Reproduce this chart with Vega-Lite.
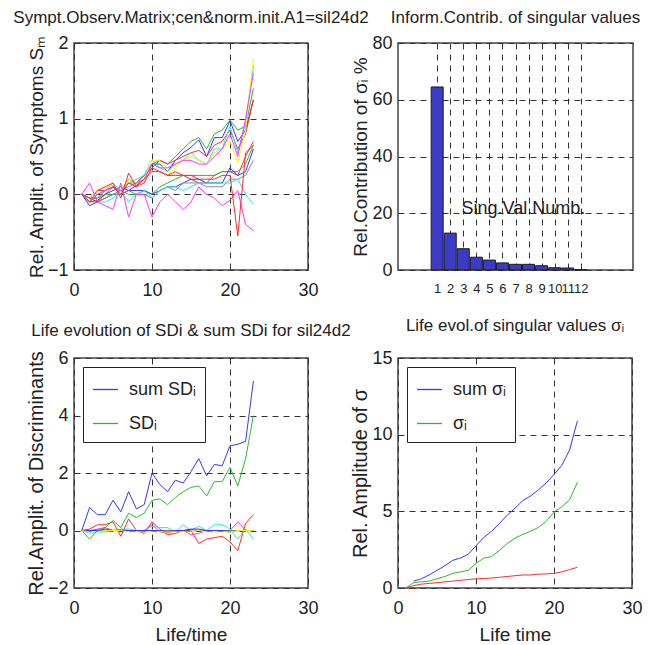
{
"$schema": "https://vega.github.io/schema/vega-lite/v6.json",
"background": "white",
"padding": {"left": 12, "top": 8, "right": 5, "bottom": 5},
"columns": 2,
"bounds": "flush",
"spacing": {"row": 88, "column": 90},
"resolve": {"scale": {"color": "independent", "x": "independent", "y": "independent"}, "legend": {"color": "independent"}},
"config": {
  "font": "Liberation Sans",
  "view": {"stroke": "#444", "strokeWidth": 1.5},
  "axis": {"labelFontSize": 18, "labelColor": "#222", "titleFontSize": 20, "titleFontWeight": "normal", "titleColor": "#222", "ticks": false, "domain": false, "grid": true, "gridColor": "#333", "gridDash": [6, 5], "gridWidth": 1, "gridOpacity": 1, "labelFlush": false, "labelOverlap": false, "labelBound": false},
  "axisX": {"labelPadding": 11, "titlePadding": 8, "titleFontSize": 19},
  "axisY": {"labelPadding": 6, "titlePadding": 1},
  "title": {"fontSize": 17, "fontWeight": "normal", "color": "#222"},
  "legend": {"orient": "top-left", "offset": 9, "strokeColor": "#222", "fillColor": "white", "padding": 9, "symbolType": "stroke", "symbolSize": 620, "symbolStrokeWidth": 1.3, "labelFontSize": 18, "labelColor": "#222", "rowPadding": 11, "labelOffset": 10}
},
"datasets": {
"symptoms": [
{"s":"g1","t":1,"v":0},{"s":"g1","t":2,"v":-0.05},{"s":"g1","t":3,"v":-0.05},{"s":"g1","t":4,"v":0.05},{"s":"g1","t":5,"v":0.1},{"s":"g1","t":6,"v":0.05},{"s":"g1","t":7,"v":0.15},{"s":"g1","t":8,"v":0.15},{"s":"g1","t":9,"v":0.25},{"s":"g1","t":10,"v":0.4},{"s":"g1","t":11,"v":0.45},{"s":"g1","t":12,"v":0.4},{"s":"g1","t":13,"v":0.5},{"s":"g1","t":14,"v":0.6},{"s":"g1","t":15,"v":0.7},{"s":"g1","t":16,"v":0.75},{"s":"g1","t":17,"v":0.6},{"s":"g1","t":18,"v":0.8},{"s":"g1","t":19,"v":0.85},{"s":"g1","t":20,"v":0.98},{"s":"g1","t":21,"v":0.85},{"s":"g1","t":22,"v":0.9},{"s":"g1","t":23,"v":1.4},
{"s":"b1","t":1,"v":0},{"s":"b1","t":2,"v":-0.1},{"s":"b1","t":3,"v":-0.08},{"s":"b1","t":4,"v":0},{"s":"b1","t":5,"v":0.05},{"s":"b1","t":6,"v":0.1},{"s":"b1","t":7,"v":0.05},{"s":"b1","t":8,"v":0.12},{"s":"b1","t":9,"v":0.2},{"s":"b1","t":10,"v":0.4},{"s":"b1","t":11,"v":0.4},{"s":"b1","t":12,"v":0.3},{"s":"b1","t":13,"v":0.45},{"s":"b1","t":14,"v":0.55},{"s":"b1","t":15,"v":0.62},{"s":"b1","t":16,"v":0.72},{"s":"b1","t":17,"v":0.5},{"s":"b1","t":18,"v":0.75},{"s":"b1","t":19,"v":0.75},{"s":"b1","t":20,"v":0.97},{"s":"b1","t":21,"v":0.7},{"s":"b1","t":22,"v":0.85},{"s":"b1","t":23,"v":1.25},
{"s":"r1","t":1,"v":0},{"s":"r1","t":2,"v":-0.05},{"s":"r1","t":3,"v":0.05},{"s":"r1","t":4,"v":0.05},{"s":"r1","t":5,"v":0.1},{"s":"r1","t":6,"v":0.05},{"s":"r1","t":7,"v":0.2},{"s":"r1","t":8,"v":0.15},{"s":"r1","t":9,"v":0.25},{"s":"r1","t":10,"v":0.35},{"s":"r1","t":11,"v":0.45},{"s":"r1","t":12,"v":0.4},{"s":"r1","t":13,"v":0.45},{"s":"r1","t":14,"v":0.5},{"s":"r1","t":15,"v":0.55},{"s":"r1","t":16,"v":0.58},{"s":"r1","t":17,"v":0.5},{"s":"r1","t":18,"v":0.65},{"s":"r1","t":19,"v":0.7},{"s":"r1","t":20,"v":0.85},{"s":"r1","t":21,"v":0.6},{"s":"r1","t":22,"v":0.8},{"s":"r1","t":23,"v":1.25},
{"s":"c1","t":1,"v":0},{"s":"c1","t":2,"v":-0.1},{"s":"c1","t":3,"v":0},{"s":"c1","t":4,"v":0.05},{"s":"c1","t":5,"v":0.15},{"s":"c1","t":6,"v":0.05},{"s":"c1","t":7,"v":0.15},{"s":"c1","t":8,"v":0.2},{"s":"c1","t":9,"v":0.25},{"s":"c1","t":10,"v":0.45},{"s":"c1","t":11,"v":0.35},{"s":"c1","t":12,"v":0.3},{"s":"c1","t":13,"v":0.4},{"s":"c1","t":14,"v":0.45},{"s":"c1","t":15,"v":0.55},{"s":"c1","t":16,"v":0.45},{"s":"c1","t":17,"v":0.4},{"s":"c1","t":18,"v":0.6},{"s":"c1","t":19,"v":0.6},{"s":"c1","t":20,"v":0.9},{"s":"c1","t":21,"v":0.55},{"s":"c1","t":22,"v":0.95},{"s":"c1","t":23,"v":1.7},
{"s":"y1","t":1,"v":0},{"s":"y1","t":2,"v":-0.05},{"s":"y1","t":3,"v":0.05},{"s":"y1","t":4,"v":0.1},{"s":"y1","t":5,"v":0.12},{"s":"y1","t":6,"v":0.05},{"s":"y1","t":7,"v":0.2},{"s":"y1","t":8,"v":0.15},{"s":"y1","t":9,"v":0.2},{"s":"y1","t":10,"v":0.45},{"s":"y1","t":11,"v":0.45},{"s":"y1","t":12,"v":0.25},{"s":"y1","t":13,"v":0.35},{"s":"y1","t":14,"v":0.45},{"s":"y1","t":15,"v":0.5},{"s":"y1","t":16,"v":0.45},{"s":"y1","t":17,"v":0.4},{"s":"y1","t":18,"v":0.55},{"s":"y1","t":19,"v":0.6},{"s":"y1","t":20,"v":0.7},{"s":"y1","t":21,"v":0.42},{"s":"y1","t":22,"v":0.85},{"s":"y1","t":23,"v":1.8},
{"s":"m1","t":1,"v":0},{"s":"m1","t":2,"v":-0.1},{"s":"m1","t":3,"v":0},{"s":"m1","t":4,"v":0.05},{"s":"m1","t":5,"v":0.1},{"s":"m1","t":6,"v":0.05},{"s":"m1","t":7,"v":0.1},{"s":"m1","t":8,"v":0.15},{"s":"m1","t":9,"v":0.2},{"s":"m1","t":10,"v":0.4},{"s":"m1","t":11,"v":0.35},{"s":"m1","t":12,"v":0.35},{"s":"m1","t":13,"v":0.4},{"s":"m1","t":14,"v":0.45},{"s":"m1","t":15,"v":0.45},{"s":"m1","t":16,"v":0.4},{"s":"m1","t":17,"v":0.4},{"s":"m1","t":18,"v":0.5},{"s":"m1","t":19,"v":0.6},{"s":"m1","t":20,"v":0.8},{"s":"m1","t":21,"v":0.5},{"s":"m1","t":22,"v":1.0},{"s":"m1","t":23,"v":1.6},
{"s":"r2","t":1,"v":0},{"s":"r2","t":2,"v":-0.1},{"s":"r2","t":3,"v":0.05},{"s":"r2","t":4,"v":0.1},{"s":"r2","t":5,"v":0.15},{"s":"r2","t":6,"v":-0.05},{"s":"r2","t":7,"v":0.28},{"s":"r2","t":8,"v":0.1},{"s":"r2","t":9,"v":0.15},{"s":"r2","t":10,"v":0.35},{"s":"r2","t":11,"v":0.3},{"s":"r2","t":12,"v":0.25},{"s":"r2","t":13,"v":0.25},{"s":"r2","t":14,"v":0.25},{"s":"r2","t":15,"v":0.2},{"s":"r2","t":16,"v":0.15},{"s":"r2","t":17,"v":0.15},{"s":"r2","t":18,"v":0.25},{"s":"r2","t":19,"v":0.3},{"s":"r2","t":20,"v":0.3},{"s":"r2","t":21,"v":0.25},{"s":"r2","t":22,"v":0.5},{"s":"r2","t":23,"v":0.7},
{"s":"g2","t":1,"v":0},{"s":"g2","t":2,"v":-0.05},{"s":"g2","t":3,"v":-0.05},{"s":"g2","t":4,"v":0},{"s":"g2","t":5,"v":0},{"s":"g2","t":6,"v":0.05},{"s":"g2","t":7,"v":0},{"s":"g2","t":8,"v":0},{"s":"g2","t":9,"v":0.05},{"s":"g2","t":10,"v":0},{"s":"g2","t":11,"v":0.1},{"s":"g2","t":12,"v":0.15},{"s":"g2","t":13,"v":0.2},{"s":"g2","t":14,"v":0.25},{"s":"g2","t":15,"v":0.25},{"s":"g2","t":16,"v":0.25},{"s":"g2","t":17,"v":0.25},{"s":"g2","t":18,"v":0.25},{"s":"g2","t":19,"v":0.3},{"s":"g2","t":20,"v":0.3},{"s":"g2","t":21,"v":0.3},{"s":"g2","t":22,"v":0.4},{"s":"g2","t":23,"v":0.65},
{"s":"b2","t":1,"v":0},{"s":"b2","t":2,"v":-0.15},{"s":"b2","t":3,"v":-0.1},{"s":"b2","t":4,"v":-0.05},{"s":"b2","t":5,"v":0},{"s":"b2","t":6,"v":0},{"s":"b2","t":7,"v":0.05},{"s":"b2","t":8,"v":0.05},{"s":"b2","t":9,"v":0.05},{"s":"b2","t":10,"v":0},{"s":"b2","t":11,"v":0.05},{"s":"b2","t":12,"v":0.1},{"s":"b2","t":13,"v":0.1},{"s":"b2","t":14,"v":0.15},{"s":"b2","t":15,"v":0.2},{"s":"b2","t":16,"v":0.2},{"s":"b2","t":17,"v":0.15},{"s":"b2","t":18,"v":0.15},{"s":"b2","t":19,"v":0.15},{"s":"b2","t":20,"v":0.35},{"s":"b2","t":21,"v":0.25},{"s":"b2","t":22,"v":0.3},{"s":"b2","t":23,"v":0.6},
{"s":"k1","t":1,"v":0},{"s":"k1","t":2,"v":-0.1},{"s":"k1","t":3,"v":-0.1},{"s":"k1","t":4,"v":-0.05},{"s":"k1","t":5,"v":0},{"s":"k1","t":6,"v":0},{"s":"k1","t":7,"v":0.05},{"s":"k1","t":8,"v":0},{"s":"k1","t":9,"v":0},{"s":"k1","t":10,"v":-0.05},{"s":"k1","t":11,"v":0.05},{"s":"k1","t":12,"v":0.1},{"s":"k1","t":13,"v":0.05},{"s":"k1","t":14,"v":0.15},{"s":"k1","t":15,"v":0.15},{"s":"k1","t":16,"v":0.15},{"s":"k1","t":17,"v":0.1},{"s":"k1","t":18,"v":0.1},{"s":"k1","t":19,"v":0.1},{"s":"k1","t":20,"v":0.2},{"s":"k1","t":21,"v":0.2},{"s":"k1","t":22,"v":0.25},{"s":"k1","t":23,"v":0.45},
{"s":"c2","t":1,"v":0},{"s":"c2","t":2,"v":-0.05},{"s":"c2","t":3,"v":-0.1},{"s":"c2","t":4,"v":-0.1},{"s":"c2","t":5,"v":-0.05},{"s":"c2","t":6,"v":0.05},{"s":"c2","t":7,"v":-0.1},{"s":"c2","t":8,"v":0},{"s":"c2","t":9,"v":0.05},{"s":"c2","t":10,"v":-0.05},{"s":"c2","t":11,"v":0.05},{"s":"c2","t":12,"v":0.1},{"s":"c2","t":13,"v":0.1},{"s":"c2","t":14,"v":0.05},{"s":"c2","t":15,"v":0.1},{"s":"c2","t":16,"v":0.15},{"s":"c2","t":17,"v":0.15},{"s":"c2","t":18,"v":0.15},{"s":"c2","t":19,"v":0.15},{"s":"c2","t":20,"v":0.15},{"s":"c2","t":21,"v":0.2},{"s":"c2","t":22,"v":0},{"s":"c2","t":23,"v":-0.13},
{"s":"m2","t":1,"v":0},{"s":"m2","t":2,"v":0.15},{"s":"m2","t":3,"v":-0.1},{"s":"m2","t":4,"v":-0.15},{"s":"m2","t":5,"v":-0.2},{"s":"m2","t":6,"v":0.15},{"s":"m2","t":7,"v":-0.3},{"s":"m2","t":8,"v":0},{"s":"m2","t":9,"v":0},{"s":"m2","t":10,"v":-0.3},{"s":"m2","t":11,"v":-0.1},{"s":"m2","t":12,"v":0},{"s":"m2","t":13,"v":-0.1},{"s":"m2","t":14,"v":-0.2},{"s":"m2","t":15,"v":-0.1},{"s":"m2","t":16,"v":0.1},{"s":"m2","t":17,"v":0},{"s":"m2","t":18,"v":-0.05},{"s":"m2","t":19,"v":-0.15},{"s":"m2","t":20,"v":-0.08},{"s":"m2","t":21,"v":0.05},{"s":"m2","t":22,"v":-0.4},{"s":"m2","t":23,"v":-0.48},
{"s":"r3","t":1,"v":0},{"s":"r3","t":2,"v":-0.05},{"s":"r3","t":3,"v":-0.1},{"s":"r3","t":4,"v":0},{"s":"r3","t":5,"v":0.1},{"s":"r3","t":6,"v":0},{"s":"r3","t":7,"v":0.15},{"s":"r3","t":8,"v":0.1},{"s":"r3","t":9,"v":0.2},{"s":"r3","t":10,"v":0.3},{"s":"r3","t":11,"v":0.3},{"s":"r3","t":12,"v":0.25},{"s":"r3","t":13,"v":0.3},{"s":"r3","t":14,"v":0.25},{"s":"r3","t":15,"v":0.25},{"s":"r3","t":16,"v":0.2},{"s":"r3","t":17,"v":0.2},{"s":"r3","t":18,"v":0.2},{"s":"r3","t":19,"v":0.25},{"s":"r3","t":20,"v":0.25},{"s":"r3","t":21,"v":-0.55},{"s":"r3","t":22,"v":0.55},{"s":"r3","t":23,"v":0.65}
],
"contrib": [
{"n":1,"pct":64.5},{"n":2,"pct":13},{"n":3,"pct":7.5},{"n":4,"pct":4.5},{"n":5,"pct":3.5},{"n":6,"pct":2.5},{"n":7,"pct":2},{"n":8,"pct":2},{"n":9,"pct":1.5},{"n":10,"pct":0.8},{"n":11,"pct":0.7},{"n":12,"pct":0.1}
],
"note": [{"n":7.6,"pct":21.5,"label":"Sing.Val.Numb."}],
"sd": [
{"s":"r","t":1,"v":0},{"s":"r","t":2,"v":0.05},{"s":"r","t":3,"v":0.2},{"s":"r","t":4,"v":0.2},{"s":"r","t":5,"v":0.3},{"s":"r","t":6,"v":-0.2},{"s":"r","t":7,"v":0.4},{"s":"r","t":8,"v":0},{"s":"r","t":9,"v":-0.1},{"s":"r","t":10,"v":0.3},{"s":"r","t":11,"v":0.05},{"s":"r","t":12,"v":-0.15},{"s":"r","t":13,"v":-0.1},{"s":"r","t":14,"v":0},{"s":"r","t":15,"v":0},{"s":"r","t":16,"v":-0.45},{"s":"r","t":17,"v":-0.3},{"s":"r","t":18,"v":-0.25},{"s":"r","t":19,"v":-0.2},{"s":"r","t":20,"v":-0.4},{"s":"r","t":21,"v":-0.7},{"s":"r","t":22,"v":0.25},{"s":"r","t":23,"v":0.55},
{"s":"c","t":1,"v":0},{"s":"c","t":2,"v":-0.1},{"s":"c","t":3,"v":-0.05},{"s":"c","t":4,"v":-0.05},{"s":"c","t":5,"v":0},{"s":"c","t":6,"v":0.05},{"s":"c","t":7,"v":0.05},{"s":"c","t":8,"v":0},{"s":"c","t":9,"v":0},{"s":"c","t":10,"v":0.15},{"s":"c","t":11,"v":0.1},{"s":"c","t":12,"v":0.1},{"s":"c","t":13,"v":-0.05},{"s":"c","t":14,"v":0.2},{"s":"c","t":15,"v":0},{"s":"c","t":16,"v":0.15},{"s":"c","t":17,"v":0},{"s":"c","t":18,"v":0.2},{"s":"c","t":19,"v":0.2},{"s":"c","t":20,"v":0.05},{"s":"c","t":21,"v":-0.3},{"s":"c","t":22,"v":0.05},{"s":"c","t":23,"v":-0.3},
{"s":"m","t":1,"v":0},{"s":"m","t":2,"v":0},{"s":"m","t":3,"v":0.05},{"s":"m","t":4,"v":0.1},{"s":"m","t":5,"v":0},{"s":"m","t":6,"v":0},{"s":"m","t":7,"v":0},{"s":"m","t":8,"v":0},{"s":"m","t":9,"v":0},{"s":"m","t":10,"v":0.2},{"s":"m","t":11,"v":-0.05},{"s":"m","t":12,"v":-0.1},{"s":"m","t":13,"v":0},{"s":"m","t":14,"v":0},{"s":"m","t":15,"v":-0.15},{"s":"m","t":16,"v":-0.1},{"s":"m","t":17,"v":0},{"s":"m","t":18,"v":0},{"s":"m","t":19,"v":0},{"s":"m","t":20,"v":0},{"s":"m","t":21,"v":0.3},{"s":"m","t":22,"v":0},{"s":"m","t":23,"v":0},
{"s":"k","t":1,"v":0},{"s":"k","t":2,"v":0},{"s":"k","t":3,"v":0.02},{"s":"k","t":4,"v":0},{"s":"k","t":5,"v":0},{"s":"k","t":6,"v":0.03},{"s":"k","t":7,"v":0},{"s":"k","t":8,"v":0},{"s":"k","t":9,"v":0},{"s":"k","t":10,"v":0},{"s":"k","t":11,"v":0},{"s":"k","t":12,"v":0},{"s":"k","t":13,"v":0},{"s":"k","t":14,"v":0},{"s":"k","t":15,"v":0.03},{"s":"k","t":16,"v":0},{"s":"k","t":17,"v":0},{"s":"k","t":18,"v":0},{"s":"k","t":19,"v":0},{"s":"k","t":20,"v":0},{"s":"k","t":21,"v":0},{"s":"k","t":22,"v":0},{"s":"k","t":23,"v":0},
{"s":"b","t":1,"v":0},{"s":"b","t":2,"v":0},{"s":"b","t":3,"v":0},{"s":"b","t":4,"v":0.05},{"s":"b","t":5,"v":0},{"s":"b","t":6,"v":0},{"s":"b","t":7,"v":0},{"s":"b","t":8,"v":0},{"s":"b","t":9,"v":0},{"s":"b","t":10,"v":0},{"s":"b","t":11,"v":0},{"s":"b","t":12,"v":-0.05},{"s":"b","t":13,"v":0},{"s":"b","t":14,"v":0},{"s":"b","t":15,"v":0.05},{"s":"b","t":16,"v":0.05},{"s":"b","t":17,"v":0},{"s":"b","t":18,"v":0},{"s":"b","t":19,"v":0},{"s":"b","t":20,"v":-0.05},{"s":"b","t":21,"v":0},{"s":"b","t":22,"v":0},{"s":"b","t":23,"v":0},
{"s":"y","t":1,"v":0},{"s":"y","t":2,"v":-0.05},{"s":"y","t":3,"v":-0.05},{"s":"y","t":4,"v":0},{"s":"y","t":5,"v":0},{"s":"y","t":6,"v":0},{"s":"y","t":7,"v":-0.05},{"s":"y","t":8,"v":-0.05},{"s":"y","t":9,"v":-0.05},{"s":"y","t":10,"v":-0.05},{"s":"y","t":11,"v":-0.05},{"s":"y","t":12,"v":-0.05},{"s":"y","t":13,"v":-0.05},{"s":"y","t":14,"v":-0.05},{"s":"y","t":15,"v":-0.05},{"s":"y","t":16,"v":0},{"s":"y","t":17,"v":-0.05},{"s":"y","t":18,"v":-0.05},{"s":"y","t":19,"v":-0.05},{"s":"y","t":20,"v":-0.05},{"s":"y","t":21,"v":0},{"s":"y","t":22,"v":0},{"s":"y","t":23,"v":0},
{"s":"SDᵢ","t":1,"v":0},{"s":"SDᵢ","t":2,"v":-0.3},{"s":"SDᵢ","t":3,"v":0},{"s":"SDᵢ","t":4,"v":0.1},{"s":"SDᵢ","t":5,"v":0.35},{"s":"SDᵢ","t":6,"v":0.1},{"s":"SDᵢ","t":7,"v":0.6},{"s":"SDᵢ","t":8,"v":0.45},{"s":"SDᵢ","t":9,"v":0.6},{"s":"SDᵢ","t":10,"v":1.05},{"s":"SDᵢ","t":11,"v":1.1},{"s":"SDᵢ","t":12,"v":0.9},{"s":"SDᵢ","t":13,"v":1.15},{"s":"SDᵢ","t":14,"v":1.35},{"s":"SDᵢ","t":15,"v":1.5},{"s":"SDᵢ","t":16,"v":1.55},{"s":"SDᵢ","t":17,"v":1.2},{"s":"SDᵢ","t":18,"v":1.7},{"s":"SDᵢ","t":19,"v":1.7},{"s":"SDᵢ","t":20,"v":2.2},{"s":"SDᵢ","t":21,"v":1.55},{"s":"SDᵢ","t":22,"v":2.5},{"s":"SDᵢ","t":23,"v":4.0},
{"s":"sum SDᵢ","t":1,"v":0},{"s":"sum SDᵢ","t":2,"v":0.8},{"s":"sum SDᵢ","t":3,"v":0.55},{"s":"sum SDᵢ","t":4,"v":0.55},{"s":"sum SDᵢ","t":5,"v":1.05},{"s":"sum SDᵢ","t":6,"v":0.65},{"s":"sum SDᵢ","t":7,"v":1.35},{"s":"sum SDᵢ","t":8,"v":0.75},{"s":"sum SDᵢ","t":9,"v":0.9},{"s":"sum SDᵢ","t":10,"v":2.0},{"s":"sum SDᵢ","t":11,"v":1.6},{"s":"sum SDᵢ","t":12,"v":1.35},{"s":"sum SDᵢ","t":13,"v":1.75},{"s":"sum SDᵢ","t":14,"v":1.65},{"s":"sum SDᵢ","t":15,"v":2.05},{"s":"sum SDᵢ","t":16,"v":2.5},{"s":"sum SDᵢ","t":17,"v":1.9},{"s":"sum SDᵢ","t":18,"v":2.3},{"s":"sum SDᵢ","t":19,"v":2.25},{"s":"sum SDᵢ","t":20,"v":2.95},{"s":"sum SDᵢ","t":21,"v":3.0},{"s":"sum SDᵢ","t":22,"v":3.1},{"s":"sum SDᵢ","t":23,"v":5.2}
],
"sigma": [
{"s":"r","t":1,"v":0},{"s":"r","t":2,"v":0.15},{"s":"r","t":3,"v":0.25},{"s":"r","t":4,"v":0.3},{"s":"r","t":5,"v":0.35},{"s":"r","t":6,"v":0.4},{"s":"r","t":7,"v":0.45},{"s":"r","t":8,"v":0.5},{"s":"r","t":9,"v":0.55},{"s":"r","t":10,"v":0.6},{"s":"r","t":11,"v":0.62},{"s":"r","t":12,"v":0.65},{"s":"r","t":13,"v":0.7},{"s":"r","t":14,"v":0.75},{"s":"r","t":15,"v":0.8},{"s":"r","t":16,"v":0.85},{"s":"r","t":17,"v":0.85},{"s":"r","t":18,"v":0.9},{"s":"r","t":19,"v":0.92},{"s":"r","t":20,"v":0.95},{"s":"r","t":21,"v":1.05},{"s":"r","t":22,"v":1.2},{"s":"r","t":23,"v":1.35},
{"s":"σᵢ","t":1,"v":0},{"s":"σᵢ","t":2,"v":0.35},{"s":"σᵢ","t":3,"v":0.4},{"s":"σᵢ","t":4,"v":0.45},{"s":"σᵢ","t":5,"v":0.6},{"s":"σᵢ","t":6,"v":0.75},{"s":"σᵢ","t":7,"v":0.95},{"s":"σᵢ","t":8,"v":1.05},{"s":"σᵢ","t":9,"v":1.15},{"s":"σᵢ","t":10,"v":1.6},{"s":"σᵢ","t":11,"v":1.95},{"s":"σᵢ","t":12,"v":2.05},{"s":"σᵢ","t":13,"v":2.45},{"s":"σᵢ","t":14,"v":2.9},{"s":"σᵢ","t":15,"v":3.25},{"s":"σᵢ","t":16,"v":3.5},{"s":"σᵢ","t":17,"v":3.7},{"s":"σᵢ","t":18,"v":3.95},{"s":"σᵢ","t":19,"v":4.35},{"s":"σᵢ","t":20,"v":4.95},{"s":"σᵢ","t":21,"v":5.3},{"s":"σᵢ","t":22,"v":5.75},{"s":"σᵢ","t":23,"v":6.9},
{"s":"sum σᵢ","t":2,"v":0.45},{"s":"sum σᵢ","t":3,"v":0.6},{"s":"sum σᵢ","t":4,"v":0.85},{"s":"sum σᵢ","t":5,"v":1.15},{"s":"sum σᵢ","t":6,"v":1.45},{"s":"sum σᵢ","t":7,"v":1.8},{"s":"sum σᵢ","t":8,"v":1.95},{"s":"sum σᵢ","t":9,"v":2.2},{"s":"sum σᵢ","t":10,"v":2.75},{"s":"sum σᵢ","t":11,"v":3.3},{"s":"sum σᵢ","t":12,"v":3.7},{"s":"sum σᵢ","t":13,"v":4.2},{"s":"sum σᵢ","t":14,"v":4.75},{"s":"sum σᵢ","t":15,"v":5.2},{"s":"sum σᵢ","t":16,"v":5.7},{"s":"sum σᵢ","t":17,"v":6.0},{"s":"sum σᵢ","t":18,"v":6.4},{"s":"sum σᵢ","t":19,"v":6.85},{"s":"sum σᵢ","t":20,"v":7.4},{"s":"sum σᵢ","t":21,"v":8.0},{"s":"sum σᵢ","t":22,"v":9.0},{"s":"sum σᵢ","t":23,"v":10.9}
]
},
"concat": [
{
  "width": 234, "height": 227,
  "title": {"text": "Sympt.Observ.Matrix;cen&norm.init.A1=sil24d2", "offset": 7},
  "data": {"name": "symptoms"},
  "mark": {"type": "line", "strokeWidth": 1},
  "encoding": {
    "x": {"field": "t", "type": "quantitative", "scale": {"domain": [0, 30]}, "axis": {"values": [0, 10, 20, 30], "title": null}},
    "y": {"field": "v", "type": "quantitative", "scale": {"domain": [-1, 2]}, "axis": {"values": [-1, 0, 1, 2], "title": "Rel. Amplit. of Symptoms Sₘ", "titleFontSize": 19}},
    "color": {"field": "s", "type": "nominal", "scale": {"domain": ["g1","b1","r1","c1","y1","m1","r2","g2","b2","k1","c2","m2","r3"], "range": ["#2db82d","#3535ff","#ff2a2a","#22e8e8","#f5f500","#ff33ff","#ff2a2a","#2db82d","#3535ff","#888888","#22e8e8","#ff33ff","#ff2a2a"]}, "legend": null}
  }
},
{
  "width": 235, "height": 227,
  "title": {"text": "Inform.Contrib. of singular values", "offset": 7},
  "layer": [
    {
      "data": {"name": "contrib"},
      "mark": {"type": "bar", "size": 12, "fill": "#3b3bc6", "stroke": "#1a1a1a", "strokeWidth": 1},
      "encoding": {
        "x": {"field": "n", "type": "quantitative", "scale": {"domain": [0, 15]}, "axis": {"values": [1,2,3,4,5,6,7,8,9,10,11,12], "title": null, "labelOverlap": false, "labelBound": false, "labelFontSize": 13, "labelPadding": 12}},
        "y": {"field": "pct", "type": "quantitative", "scale": {"domain": [0, 80]}, "axis": {"values": [0, 20, 40, 60, 80], "title": "Rel.Contribution of σᵢ %", "titleFontSize": 19}}
      }
    },
    {
      "data": {"name": "note"},
      "mark": {"type": "text", "fontSize": 18, "color": "#222"},
      "encoding": {
        "x": {"field": "n", "type": "quantitative", "axis": {"values": [1,2,3,4,5,6,7,8,9,10,11,12], "title": null, "labelOverlap": false, "labelBound": false, "labelFontSize": 13, "labelPadding": 12}},
        "y": {"field": "pct", "type": "quantitative", "axis": {"values": [0, 20, 40, 60, 80], "title": "Rel.Contribution of σᵢ %", "titleFontSize": 19}},
        "text": {"field": "label"}
      }
    }
  ]
},
{
  "width": 234, "height": 230,
  "title": {"text": "Life evolution of SDi & sum SDi for sil24d2", "offset": 9},
  "data": {"name": "sd"},
  "mark": {"type": "line", "strokeWidth": 1},
  "encoding": {
    "x": {"field": "t", "type": "quantitative", "scale": {"domain": [0, 30]}, "axis": {"values": [0, 10, 20, 30], "title": "Life/time"}},
    "y": {"field": "v", "type": "quantitative", "scale": {"domain": [-2, 6]}, "axis": {"values": [-2, 0, 2, 4, 6], "title": "Rel.Amplit. of Discriminants"}},
    "color": {"field": "s", "type": "nominal", "scale": {"domain": ["sum SDᵢ","SDᵢ","r","c","m","k","b","y"], "range": ["#3535ff","#2db82d","#ff2a2a","#22e8e8","#ff33ff","#777777","#3535ff","#f5f500"]}, "legend": {"values": ["sum SDᵢ","SDᵢ"], "title": null}}
  }
},
{
  "width": 234, "height": 230,
  "title": {"text": "Life evol.of singular values σᵢ", "offset": 14},
  "data": {"name": "sigma"},
  "mark": {"type": "line", "strokeWidth": 1},
  "encoding": {
    "x": {"field": "t", "type": "quantitative", "scale": {"domain": [0, 30]}, "axis": {"values": [0, 10, 20, 30], "title": "Life time"}},
    "y": {"field": "v", "type": "quantitative", "scale": {"domain": [0, 15]}, "axis": {"values": [0, 5, 10, 15], "title": "Rel. Amplitude of σ"}},
    "color": {"field": "s", "type": "nominal", "scale": {"domain": ["sum σᵢ","σᵢ","r"], "range": ["#3535ff","#2db82d","#ff2a2a"]}, "legend": {"values": ["sum σᵢ","σᵢ"], "title": null}}
  }
}
]
}
